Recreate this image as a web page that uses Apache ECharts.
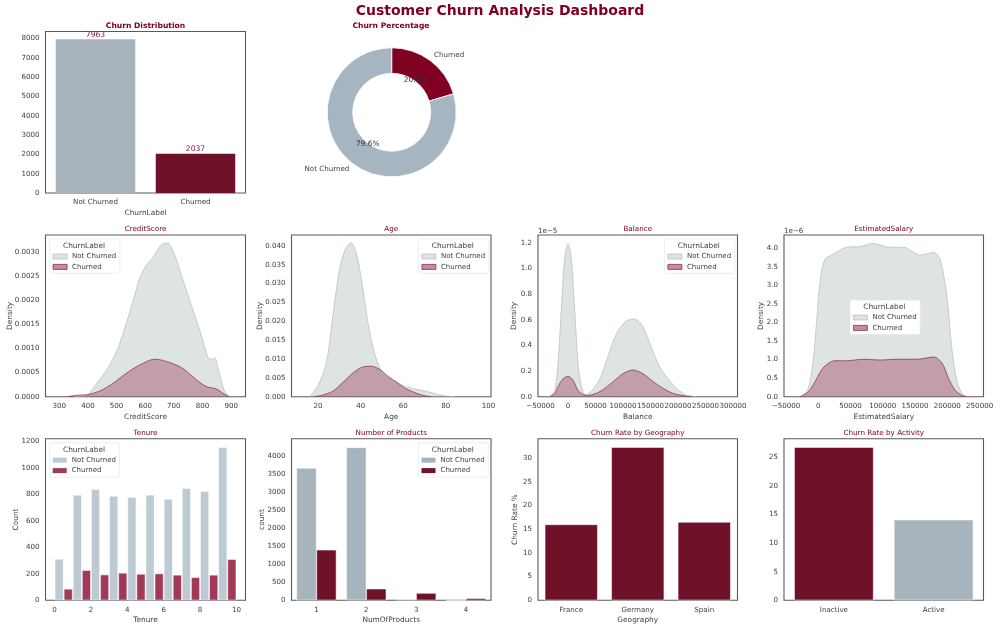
<!DOCTYPE html>
<html><head><meta charset="utf-8">
<style>html,body{margin:0;padding:0;background:#fff}#c{width:1000px;height:629px}</style>
<script src="https://cdn.jsdelivr.net/npm/echarts@6/dist/echarts.min.js"></script>
</head><body><div id="c"></div>
<script>
// ---------- data ----------
const churnLabels = ['Not Churned', 'Churned'];
const churnCounts = [7963, 2037];
const churnCountTicks = [0,1000,2000,3000,4000,5000,6000,7000,8000];

const creditNotChurned = [[350,0],[385,0.00001],[400,0.00004],[430,0.00027],[465,0.00055],[500,0.00094],[530,0.00145],[558,0.0020],[580,0.00245],[593,0.00262],[605,0.00274],[628,0.0029],[651,0.00312],[663,0.00318],[680,0.00319],[695,0.00305],[709,0.00285],[744,0.0022],[790,0.00139],[820,0.0008],[832,0.00078],[843,0.00081],[852,0.00065],[860,0.00045],[878,0.0001],[895,0]];
const creditChurned = [[331,0],[360,0.00003],[395,0.00004],[442,0.00012],[488,0.00028],[535,0.00049],[581,0.00066],[634,0.00078],[686,0.00071],[733,0.00058],[779,0.00035],[814,0.00021],[849,0.00016],[872,0.00007],[893,0]];
const creditXTicks = [300,400,500,600,700,800,900];
const creditYTicks = [0,0.0005,0.001,0.0015,0.002,0.0025,0.003];

const ageNotChurned = [[16,0],[20,0.003],[24,0.0093],[27,0.0217],[30,0.0336],[33,0.0394],[35.5,0.0408],[38,0.038],[41,0.0288],[44,0.0177],[47,0.0106],[50,0.0066],[54,0.0049],[58,0.0035],[62,0.0025],[68,0.0018],[72,0.0013],[76,0.0006],[80,0.0002],[84,0]];
const ageChurned = [[18,0],[22,0.0004],[27,0.0015],[32,0.004],[37,0.0066],[41,0.0079],[45,0.0081],[49,0.0072],[53,0.0053],[57,0.0038],[61,0.0022],[65,0.0012],[69,0.0004],[73,0]];
const ageXTicks = [20,40,60,80,100];
const ageYTicks = [0,0.005,0.01,0.015,0.02,0.025,0.03,0.035,0.04];

const balanceNotChurned = [[-33000,0],[-24000,0.05],[-18000,0.27],[-12000,0.69],[-6000,1.08],[0,1.19],[6000,1.08],[12000,0.69],[18000,0.27],[24000,0.09],[32000,0.013],[42000,0.04],[58000,0.14],[73000,0.32],[88000,0.49],[106000,0.59],[121000,0.605],[136000,0.545],[152000,0.38],[167000,0.23],[182000,0.14],[197000,0.065],[215000,0.013],[233000,0]];
const balanceChurned = [[-33000,0],[-24000,0.026],[-18000,0.08],[-9000,0.14],[0,0.158],[9000,0.13],[18000,0.05],[27000,0.018],[36000,0.01],[58000,0.04],[82000,0.117],[100000,0.18],[118000,0.208],[136000,0.18],[155000,0.117],[173000,0.065],[191000,0.026],[215000,0.004],[228000,0]];
const balanceXTicks = [-50000,0,50000,100000,150000,200000,250000,300000];
const balanceYTicks = [0,0.2,0.4,0.6,0.8,1.0,1.2];

const salaryNotChurned = [[-26000,0],[-15500,0.22],[-8000,0.94],[-2500,2.02],[2600,3.06],[10000,3.69],[23000,3.84],[44000,4.03],[65000,4.05],[85000,4.13],[111000,4.03],[132000,4.03],[158000,3.82],[179000,3.89],[189000,3.69],[199000,2.74],[207000,1.30],[215000,0.40],[223000,0.09],[230000,0]];
const salaryChurned = [[-28000,0],[-15500,0.13],[-5000,0.40],[5000,0.72],[15500,0.90],[26000,0.97],[44000,0.97],[70000,1.01],[96000,0.99],[122000,1.01],[153000,1.01],[179000,1.07],[192000,0.90],[202000,0.49],[212000,0.18],[223000,0.03],[230000,0]];
const salaryXTicks = [-50000,0,50000,100000,150000,200000,250000];
const salaryYTicks = [0,0.5,1.0,1.5,2.0,2.5,3.0,3.5,4.0];

const tenureBins = [0,1,2,3,4,5,6,7,8,9];
const tenureNotChurned = [313,797,840,789,779,797,766,847,824,1157];
const tenureChurned = [86,227,194,207,199,202,192,174,192,310];
const tenureXTicks = [0,2,4,6,8,10];
const tenureYTicks = [0,200,400,600,800,1000,1200];

const productCategories = ['1','2','3','4'];
const productNotChurned = [3660,4230,30,0];
const productChurned = [1395,320,200,55];
const productYTicks = [0,500,1000,1500,2000,2500,3000,3500,4000];

const geoCategories = ['France','Germany','Spain'];
const geoRates = [16,32.3,16.5];
const geoYTicks = [0,5,10,15,20,25,30];

const activityCategories = ['Inactive','Active'];
const activityRates = [26.8,14.1];
const activityYTicks = [0,5,10,15,20,25];

// ---------- style ----------
const FONT = 'DejaVu Sans';
const BURG = '#800020', DARK = '#6f1128', SLATE = '#a7b4bd';
const TXT = '#404040';
const colX = [[45.5,245.5],[291.5,491],[538,737.5],[784,983.5]];
const rowY = [[31.5,193],[235,396.7],[438.7,600.3]];

const grid=[], xAxis=[], yAxis=[], series=[], title=[], legend=[];

function text(t,x,y,size,opts){
  title.push({text:t,left:x,top:y+1,textAlign:(opts&&opts.align)||'center',textVerticalAlign:'middle',padding:0,
    textStyle:{fontFamily:FONT,fontSize:size,fontWeight:(opts&&opts.bold)?'bold':'normal',color:(opts&&opts.color)||TXT},z:20});
}
function panel(col,row,cfg){
  const [x0,x1]=colX[col],[y0,y1]=rowY[row];
  const i=grid.length;
  grid.push({left:x0,top:y0,width:x1-x0,height:y1-y0,show:true,borderColor:'#5a5a5a',borderWidth:1.1,backgroundColor:'#fff'});
  const lab={fontFamily:FONT,fontSize:7.1,color:TXT,margin:6,hideOverlap:false,showMinLabel:true,showMaxLabel:true};
  const base={gridIndex:i,axisLine:{show:false},axisTick:{show:false},splitLine:{show:false},
    nameLocation:'middle',nameMoveOverlap:false,nameTextStyle:{fontFamily:FONT,fontSize:7.4,color:TXT}};
  const fmtX=cfg.xFmt||(v=>String(v).replace('-','\u2212'));
  if(cfg.cats){
    xAxis.push({...base,type:'category',data:cfg.cats,name:cfg.xName,nameGap:16.5,axisLabel:{...lab,interval:0}});
  } else {
    xAxis.push({...base,type:'value',min:cfg.xMin,max:cfg.xMax,name:cfg.xName,nameGap:16.5,
      axisLabel:{...lab,customValues:cfg.xTicks,formatter:v=>fmtX(v)}});
  }
  const fmtY=v=>v.toFixed(cfg.yDec||0);
  yAxis.push({...base,type:'value',min:0,max:cfg.yMax,name:cfg.yName,nameGap:cfg.yGap,nameRotate:90,
    axisLabel:{...lab,customValues:cfg.yTicks,formatter:v=>fmtY(v)}});
  text(cfg.title,(x0+x1)/2,y0-6.6,cfg.bold?7.6:7.2,{color:BURG,bold:cfg.bold});
  return i;
}
function addLegend(lx,ly,kind){
  const styles = kind==='kde'
    ? [{color:'#dde2e4',borderColor:'#b4bcc2',borderWidth:0.7},{color:'#c98aa0',borderColor:'#8e2b4f',borderWidth:0.8}]
    : kind==='tenure'
    ? [{color:'#bdc9d3',borderWidth:0},{color:'#a03a58',borderWidth:0}]
    : [{color:SLATE,borderWidth:0},{color:DARK,borderWidth:0}];
  legend.push({left:lx,top:ly,orient:'vertical',selectedMode:false,icon:'rect',itemWidth:14,itemHeight:5,itemGap:3.4,
    padding:[14,3.6,3,3],backgroundColor:'#fff',borderColor:'#e6e6e6',borderWidth:0.7,borderRadius:1.5,z:15,
    textStyle:{fontFamily:FONT,fontSize:7,color:TXT},
    data:churnLabels.map((n,k)=>({name:n,itemStyle:styles[k]}))});
  text('ChurnLabel',lx+34.3,ly+6.2,7.4,{});
}
function kde(i,nc,ch){
  const mk=(name,d,lc,fc,op,lw)=>({type:'line',name,xAxisIndex:i,yAxisIndex:i,data:d,smooth:0.3,
    showSymbol:false,symbol:'none',lineStyle:{color:lc,width:lw},areaStyle:{color:fc,opacity:op},itemStyle:{color:fc},silent:true});
  series.push(mk(churnLabels[0],nc,'#b4bcc2','#a8b5b8',0.38,0.7));
  series.push(mk(churnLabels[1],ch,'#84284a',BURG,0.3,0.7));
}
const edge={borderColor:'#ffffff',borderWidth:0.5};

// main title
text('Customer Churn Analysis Dashboard',500,10,14,{bold:true,color:BURG});

const iDist=panel(0,0,{title:'Churn Distribution',bold:true,cats:churnLabels,xName:'ChurnLabel',yMax:8360,yTicks:churnCountTicks,yGap:0});
const iCredit=panel(0,1,{title:'CreditScore',xName:'CreditScore',yName:'Density',xMin:252,xMax:950,xTicks:creditXTicks,yMax:0.00336,yTicks:creditYTicks,yDec:4,yGap:32});
const iAge=panel(1,1,{title:'Age',xName:'Age',yName:'Density',xMin:7.5,xMax:101.2,xTicks:ageXTicks,yMax:0.0429,yTicks:ageYTicks,yDec:3,yGap:28});
const iBal=panel(2,1,{title:'Balance',xName:'Balance',yName:'Density',xMin:-54500,xMax:308000,xTicks:balanceXTicks,yMax:1.26,yTicks:balanceYTicks,yDec:1,yGap:20});
const iSal=panel(3,1,{title:'EstimatedSalary',xName:'EstimatedSalary',yName:'Density',xMin:-53000,xMax:256000,xTicks:salaryXTicks,yMax:4.36,yTicks:salaryYTicks,yDec:1,yGap:19});
const iTen=panel(0,2,{title:'Tenure',xName:'Tenure',yName:'Count',xMin:-0.5,xMax:10.5,xTicks:tenureXTicks,yMax:1222,yTicks:tenureYTicks,yGap:26});
const iProd=panel(1,2,{title:'Number of Products',cats:productCategories,xName:'NumOfProducts',yName:'count',yMax:4470,yTicks:productYTicks,yGap:26});
const iGeo=panel(2,2,{title:'Churn Rate by Geography',cats:geoCategories,xName:'Geography',yName:'Churn Rate %',yMax:34.1,yTicks:geoYTicks,yGap:19});
const iAct=panel(3,2,{title:'Churn Rate by Activity',cats:activityCategories,yMax:28.3,yTicks:activityYTicks,yGap:0});

// bar series come first: legends take their plain swatch shape from them
series.push({type:'bar',name:churnLabels[0],xAxisIndex:iTen,yAxisIndex:iTen,barWidth:8.7,barGap:'-100%',
  data:tenureBins.map((b,k)=>[b+0.25,tenureNotChurned[k]]),itemStyle:{color:'#bdc9d3',...edge}});
series.push({type:'bar',name:churnLabels[1],xAxisIndex:iTen,yAxisIndex:iTen,barWidth:8.7,barGap:'-100%',
  data:tenureBins.map((b,k)=>[b+0.75,tenureChurned[k]]),itemStyle:{color:'#a03a58',...edge}});

series.push({type:'bar',name:churnLabels[0],xAxisIndex:iProd,yAxisIndex:iProd,barGap:0,barCategoryGap:'20%',
  data:productNotChurned,itemStyle:{color:SLATE,...edge}});
series.push({type:'bar',name:churnLabels[1],xAxisIndex:iProd,yAxisIndex:iProd,barGap:0,barCategoryGap:'20%',
  data:productChurned,itemStyle:{color:DARK,...edge}});

series.push({type:'bar',name:'Count',xAxisIndex:iDist,yAxisIndex:iDist,barCategoryGap:'20.5%',
  data:churnCounts.map((v,k)=>({value:v,itemStyle:{color:[SLATE,DARK][k]}})),
  label:{show:true,position:'top',distance:0.5,fontFamily:FONT,fontSize:7.6,color:'#8a1f42'}});
series.push({type:'bar',name:'Geography rate',xAxisIndex:iGeo,yAxisIndex:iGeo,barCategoryGap:'20.5%',
  data:geoRates,itemStyle:{color:DARK,...edge}});
series.push({type:'bar',name:'Activity rate',xAxisIndex:iAct,yAxisIndex:iAct,barCategoryGap:'20.5%',
  data:activityRates.map((v,k)=>({value:v,itemStyle:{color:[DARK,SLATE][k],...edge}}))});

kde(iCredit,creditNotChurned,creditChurned);
kde(iAge,ageNotChurned,ageChurned);
kde(iBal,balanceNotChurned,balanceChurned);
kde(iSal,salaryNotChurned,salaryChurned);

// donut
const pieData=[{name:churnLabels[1],value:churnCounts[1]},{name:churnLabels[0],value:churnCounts[0]}];
const donutCenter=[391.7,112.3];
series.push({type:'pie',name:'Churn Percentage',center:donutCenter,radius:[39,64.5],startAngle:90,clockwise:true,silent:true,
  data:pieData.map((d,k)=>({...d,itemStyle:{color:['#7f0020','#a7b5c1'][k],borderColor:'#fff',borderWidth:0.8}})),label:{show:false},labelLine:{show:false}});
series.push({type:'pie',name:'Names',center:donutCenter,radius:[71,71],startAngle:90,silent:true,avoidLabelOverlap:false,
  data:pieData,itemStyle:{color:'transparent',borderWidth:0},
  label:{show:true,position:'outside',formatter:'{b}',distanceToLabelLine:0,fontFamily:FONT,fontSize:7.1,color:TXT},
  labelLine:{show:false,length:0,length2:0}});
series.push({type:'pie',name:'Percents',center:donutCenter,radius:[37,37],startAngle:90,silent:true,avoidLabelOverlap:false,percentPrecision:1,
  data:pieData,itemStyle:{color:'transparent',borderWidth:0},z:5,
  label:{show:true,position:'inside',formatter:'{d}%',fontFamily:FONT,fontSize:7.4,color:'#333'},labelLine:{show:false}});
text('Churn Percentage',391,24.9,7.6,{color:BURG,bold:true});

// legends
addLegend(49.7,239,'kde');
addLegend(418.5,239,'kde');
addLegend(664.5,239,'kde');
addLegend(850,300,'kde');
addLegend(49.7,442.7,'tenure');
addLegend(418.5,442.7,'plain');

// axis offset notes
text('1e\u22125',538,230,7.1,{align:'left'});
text('1e\u22126',784,230,7.1,{align:'left'});

const chart=echarts.init(document.getElementById('c'),null,{renderer:'canvas'});
chart.setOption({animation:false,backgroundColor:'#fff',tooltip:{show:false},title,grid,xAxis,yAxis,legend,series});
</script></body></html>
